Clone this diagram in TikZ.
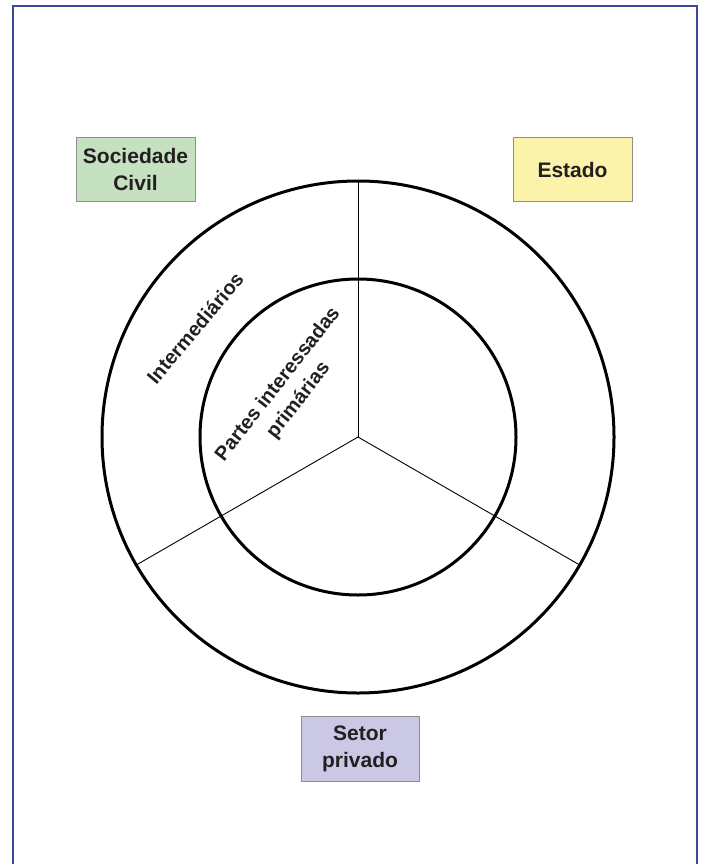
\documentclass[tikz,border=0pt]{standalone}
\usepackage{fontspec}
\setmainfont{Liberation Sans}
\definecolor{frameblue}{HTML}{3B4A9B}
\definecolor{txt}{HTML}{231F20}
\definecolor{civilgreen}{HTML}{C5E1C0}
\definecolor{estadoyellow}{HTML}{FBF3A9}
\definecolor{setorlilac}{HTML}{CBC8E6}
\definecolor{boxborder}{HTML}{8E8E8E}
\begin{document}
\begin{tikzpicture}[x=1pt,y=-1pt,
  ring/.style={circle,draw=black,line width=3pt,inner sep=0pt},
  spoke/.style={draw=black,line width=0.9pt},
  actor/.style={draw=boxborder,line width=0.8pt,minimum width=119pt,minimum height=64pt,
    inner sep=0pt,align=center,text=txt,font=\fontsize{21}{27}\selectfont\bfseries},
  ringlabel/.style={text=txt,align=center,inner sep=0pt,font=\fontsize{20}{26}\selectfont\bfseries}]
\useasboundingbox (0,0) rectangle (702,864);
\clip (0,0) rectangle (702,864);
\fill[white] (0,0) rectangle (702,864);
\draw[frameblue,line width=2.5pt] (13,6) rectangle (697,890);
\coordinate (c) at (358,437);
\node[ring,minimum size=512pt] (outer) at (c) {};
\node[ring,minimum size=316pt] (inner) at (c) {};
\draw[spoke] (c) -- (outer.90);
\draw[spoke] (c) -- (outer.210);
\draw[spoke] (c) -- (outer.330);
\node[actor,fill=civilgreen] (civil) at (135.5,169) {Sociedade\\Civil};
\node[actor,fill=estadoyellow] (estado) at (572.5,169.5) {Estado};
\node[actor,fill=setorlilac,minimum width=118pt,minimum height=65pt] (setor) at (360,748.5) {Setor\\privado};
\node[ringlabel,rotate=50] (inter) at (195,328) {Intermediários};
\node[ringlabel,rotate=52] (partes) at (288.5,392.5) {Partes interessadas\\primárias};
\end{tikzpicture}
\end{document}
